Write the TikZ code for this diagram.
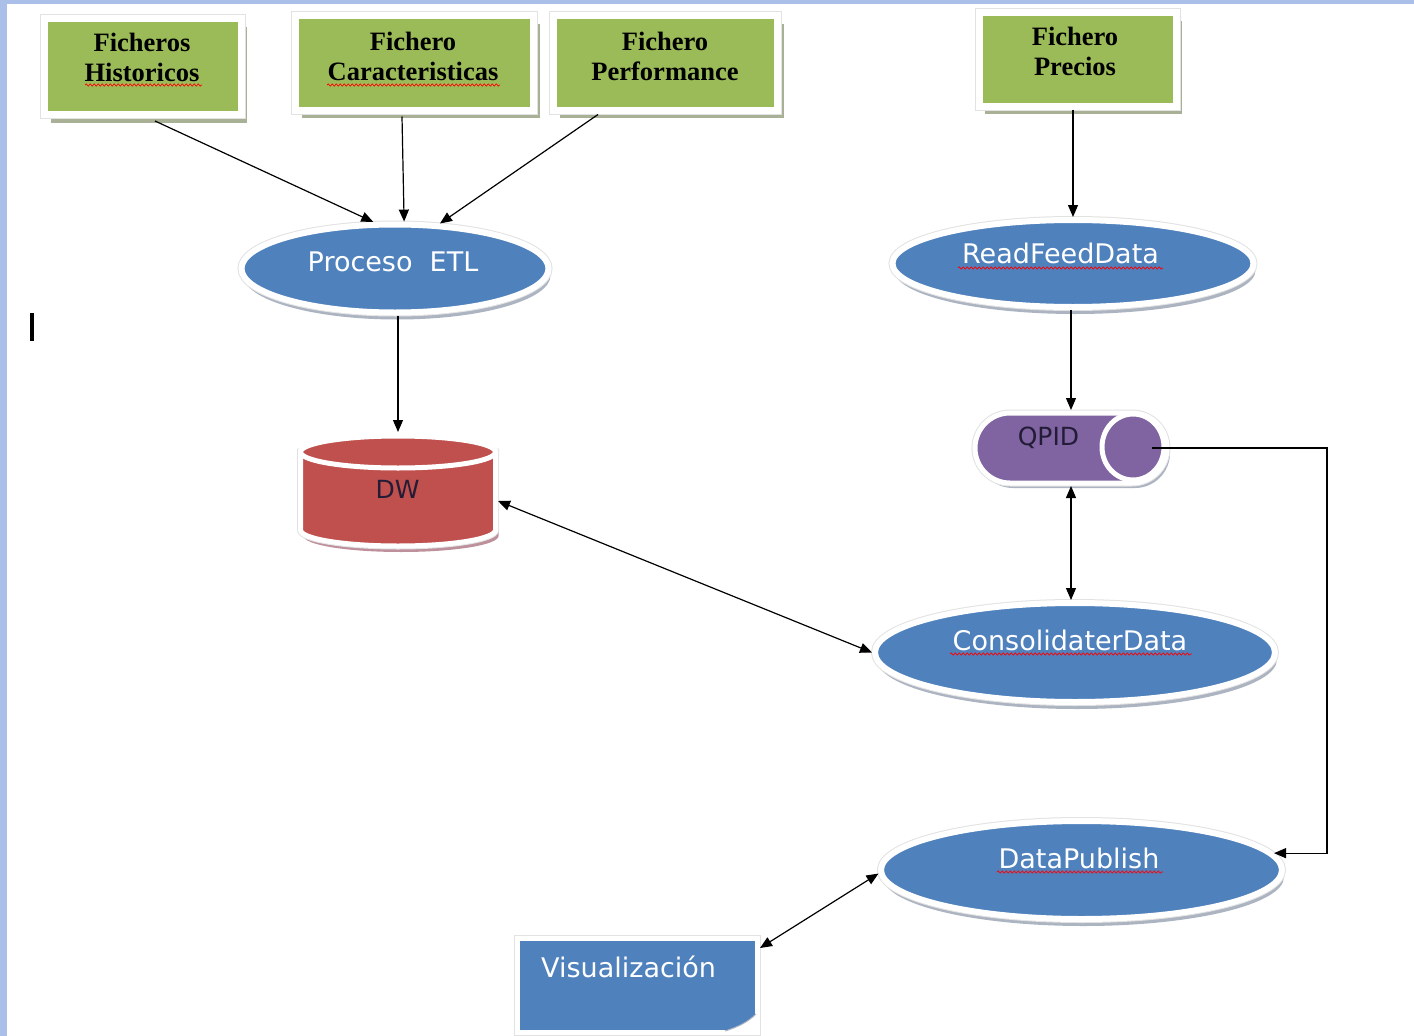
\documentclass[tikz,border=0pt]{standalone}
\usepackage{fontspec}
\setmainfont{Liberation Serif}
\newfontfamily\dvs{DejaVu Sans}
\usetikzlibrary{arrows.meta,shadows,calc,decorations.pathmorphing,shapes.geometric}
\definecolor{gfill}{RGB}{155,187,89}
\definecolor{bfill}{RGB}{79,129,189}
\definecolor{rfill}{RGB}{192,80,77}
\definecolor{pfill}{RGB}{128,100,162}
\definecolor{frameblue}{RGB}{170,192,232}
\definecolor{shadowgray}{RGB}{172,180,194}
\definecolor{gshadow}{RGB}{168,176,150}
\definecolor{rimgray}{RGB}{226,226,226}
\definecolor{textdark}{RGB}{35,28,55}
\tikzset{
  rim/.style={preaction={draw=rimgray, line width=#1}},
  gbox/.style={rectangle, fill=gfill, inner sep=0pt,
    drop shadow={shadow xshift=6pt, shadow yshift=-8pt, fill=gshadow, opacity=1},
    rim=9pt, draw=white, line width=7pt},
  bell/.style={ellipse, fill=bfill, inner sep=0pt,
    drop shadow={shadow xshift=2pt, shadow yshift=-7pt, fill=shadowgray, opacity=1},
    rim=8pt, draw=white, line width=6pt},
  holder/.style={rectangle, inner sep=0pt, outer sep=0pt},
  gtext/.style={inner sep=0pt, text=black, font=\fontsize{26.5}{30}\selectfont\bfseries},
  btext/.style={inner sep=0pt, text=white, font=\dvs\fontsize{27}{32}\selectfont},
  dtext/.style={inner sep=0pt, text=textdark, font=\dvs\fontsize{25}{30}\selectfont},
  arr/.style={-{Triangle[length=12pt,width=10pt]}, line width=1.2pt, black},
  darr/.style={{Triangle[length=12pt,width=10pt]}-{Triangle[length=12pt,width=10pt]}, line width=1.2pt, black},
  wavy/.style={red, line width=0.7pt, decorate, decoration={snake, amplitude=1.1pt, segment length=4pt}},
  shapeline/.style={draw=white, line width=5pt},
}
\begin{document}
\begin{tikzpicture}[x=1pt, y=-1pt]
\fill[white] (0,0) rectangle (1414,1036);
\useasboundingbox (0,0) rectangle (1414,1036);
\fill[frameblue] (0,0) rectangle (7,1036);
\fill[frameblue] (0,0) rectangle (1414,4);
\fill[black] (29.5,313) rectangle (34,341);

% green file boxes
\node[gbox, minimum width=196.5pt, minimum height=96pt] (hist) at (143,66.5) {};
\node[gbox, minimum width=238pt, minimum height=94.5pt] (car) at (414.5,62.75) {};
\node[gbox, minimum width=224pt, minimum height=94.5pt] (perf) at (665.5,62.75) {};
\node[gbox, minimum width=197pt, minimum height=93.5pt] (prec) at (1077.5,59.25) {};
\node[gtext, anchor=base] (histt) at (142,51.7) {\begin{tabular}[t]{@{}c@{}}Ficheros\\Historicos\end{tabular}};
\node[gtext, anchor=base] (cart) at (413,50) {\begin{tabular}[t]{@{}c@{}}Fichero\\Caracteristicas\end{tabular}};
\node[gtext, anchor=base] (perft) at (665,50) {\begin{tabular}[t]{@{}c@{}}Fichero\\Performance\end{tabular}};
\node[gtext, anchor=base] (prect) at (1075,45) {\begin{tabular}[t]{@{}c@{}}Fichero\\Precios\end{tabular}};

% blue process ellipses
\node[bell, minimum width=307pt, minimum height=88pt] (etl) at (395,268.5) {};
\node[bell, minimum width=361pt, minimum height=87pt] (rfd) at (1073,263.5) {};
\node[bell, minimum width=400pt, minimum height=99pt] (cons) at (1075,652.5) {};
\node[bell, minimum width=401pt, minimum height=98pt] (dp) at (1081.5,870) {};
\node[btext, anchor=base] (etlt) at (393,271) {Proceso\ \ ETL};
\node[btext, anchor=base] (rfdt) at (1060.5,263.3) {ReadFeedData};
\node[btext, anchor=base] (const) at (1070,650) {ConsolidaterData};
\node[btext, anchor=base] (dpt) at (1079,868) {DataPublish};

% DW cylinder
\draw[drop shadow={shadow xshift=3pt, shadow yshift=-6pt, fill=shadowgray!80!red, opacity=1}, rim=7pt, shapeline, fill=rfill]
  (300.5,452) -- (300.5,530) arc[start angle=180, end angle=0, x radius=97.5, y radius=16] -- (495.5,452) -- cycle;
\draw[shapeline, fill=rfill] (398,452) ellipse [x radius=97.5, y radius=16];
\node[holder, minimum width=202pt, minimum height=118pt] (dw) at (398,491) {};
\node[dtext, anchor=base] (dwt) at (397.5,498) {DW};

% QPID horizontal cylinder
\draw[drop shadow={shadow xshift=3pt, shadow yshift=-5pt, fill=shadowgray, opacity=1}, rim=7pt, shapeline, fill=pfill]
  (1010,413) -- (1132,413) arc[start angle=-90, end angle=90, radius=35] -- (1010,483) arc[start angle=90, end angle=270, radius=35] -- cycle;
\draw[shapeline, fill=pfill] (1133,447) ellipse [x radius=31, y radius=33];
\node[holder, minimum width=196pt, minimum height=76pt] (qpid) at (1071,448) {};
\node[dtext, anchor=base] (qpidt) at (1048.5,445) {QPID};
\coordinate (qpidend) at (1152,448);
\coordinate (xr) at (1327,0);

% Visualizacion
\node[rectangle, fill=bfill, inner sep=0pt, minimum width=240pt, minimum height=94pt,
  drop shadow={shadow xshift=3pt, shadow yshift=-3pt, fill=shadowgray, opacity=1}, rim=7pt, shapeline] (vis) at (637.5,985.5) {};
\fill[white] (725,1031) .. controls (738,1027) and (748,1022) .. (756,1014) -- (757,1033) -- cycle;
\draw[shadowgray, line width=1pt] (725,1031) .. controls (738,1027) and (748,1022) .. (756,1014);
\node[btext, anchor=base west] (vist) at (541,977) {Visualización};

% spelling marks
\draw[wavy] (85,85) -- (202,85);
\draw[wavy] (327,85) -- (500,85);
\draw[wavy] (958,268) -- (1163,268);
\draw[wavy] (950,654) -- (1192,654);
\draw[wavy] (997,872) -- (1163,872);

% connectors
\draw[arr] ($(hist.south)+(12,3)$) -- (etl.115);
\draw[arr] ($(car.south)+(-12.5,3)$) -- (etl.79);
\draw[arr] ($(perf.south)+(-67.5,1)$) -- (etl.45);
\draw[arr] (prec.south -| rfd.north) -- (rfd.north);
\draw[arr] (etl.south -| dw.north) -- (dw.north);
\draw[arr] (rfd.south -| qpid.north) -- (qpid.north);
\draw[darr] (qpid.south) -- (qpid.south |- cons.north);
\draw[darr] ($(dw.east)+(-1,10)$) -- (cons.west);
\draw[arr] (qpidend) -- (qpidend -| xr) |- (dp.5);
\draw[darr] (dp.181) -- ($(vis.north east)+(0,12)$);
\end{tikzpicture}
\end{document}
